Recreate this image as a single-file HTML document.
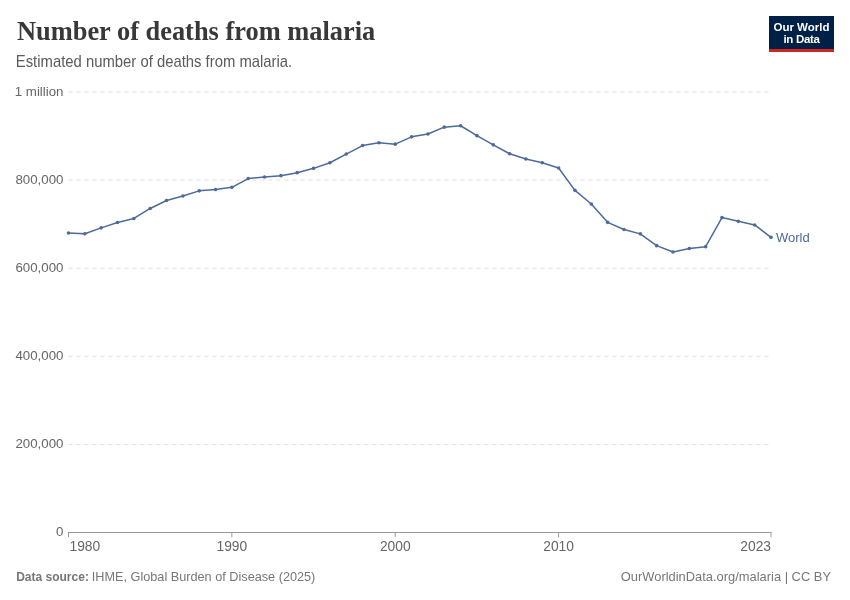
<!DOCTYPE html>
<html><head><meta charset="utf-8"><style>
html,body{margin:0;padding:0;background:#fff;width:850px;height:600px;overflow:hidden}
svg{display:block;will-change:transform}
text{font-family:"Liberation Sans",sans-serif}
</style></head><body>
<svg width="850" height="600" viewBox="0 0 850 600">
<rect width="850" height="600" fill="#fff"/>
<text x="17" y="40.3" style="font-family:'Liberation Serif',serif;font-weight:bold;font-size:26.4px" fill="#383838">Number of deaths from malaria</text>
<text transform="translate(15.8,66.6) scale(1,1.06)" x="0" y="0" style="font-size:14.85px" fill="#5b5b5b">Estimated number of deaths from malaria.</text>
<g stroke="#dddddd" stroke-width="1" stroke-dasharray="4,4" fill="none"><line x1="68.5" y1="92.00" x2="771" y2="92.00"/><line x1="68.5" y1="180.10" x2="771" y2="180.10"/><line x1="68.5" y1="268.20" x2="771" y2="268.20"/><line x1="68.5" y1="356.30" x2="771" y2="356.30"/><line x1="68.5" y1="444.40" x2="771" y2="444.40"/></g>
<g fill="#666" font-size="13.3" text-anchor="end"><text x="63.5" y="96.2">1 million</text><text x="63.5" y="184.2">800,000</text><text x="63.5" y="272.2">600,000</text><text x="63.5" y="360.2">400,000</text><text x="63.5" y="448.2">200,000</text><text x="63.5" y="536.4">0</text></g>
<g stroke="#999" stroke-width="1" fill="none"><line x1="68" y1="532.5" x2="771.5" y2="532.5"/><line x1="68.50" y1="532.5" x2="68.50" y2="537.3"/><line x1="231.87" y1="532.5" x2="231.87" y2="537.3"/><line x1="395.24" y1="532.5" x2="395.24" y2="537.3"/><line x1="558.62" y1="532.5" x2="558.62" y2="537.3"/><line x1="771.00" y1="532.5" x2="771.00" y2="537.3"/></g>
<g fill="#666" font-size="13.8"><text x="69.50" y="550.8" text-anchor="start">1980</text><text x="231.87" y="550.8" text-anchor="middle">1990</text><text x="395.24" y="550.8" text-anchor="middle">2000</text><text x="558.62" y="550.8" text-anchor="middle">2010</text><text x="771.00" y="550.8" text-anchor="end">2023</text></g>
<path d="M68.50,232.95 L84.84,233.75 L101.17,227.85 L117.51,222.55 L133.85,218.45 L150.19,208.45 L166.52,200.55 L182.86,196.05 L199.20,190.85 L215.53,189.45 L231.87,187.35 L248.21,178.55 L264.55,177.05 L280.88,175.65 L297.22,172.65 L313.56,168.35 L329.90,162.75 L346.23,154.05 L362.57,145.55 L378.91,142.75 L395.24,144.15 L411.58,136.85 L427.92,133.95 L444.26,127.15 L460.59,125.75 L476.93,135.65 L493.27,144.85 L509.60,153.75 L525.94,158.95 L542.28,162.75 L558.62,168.05 L574.95,190.35 L591.29,204.05 L607.63,222.35 L623.97,229.45 L640.30,233.85 L656.64,245.65 L672.98,252.05 L689.31,248.45 L705.65,246.65 L721.99,217.55 L738.33,221.35 L754.66,224.95 L771.00,237.35" fill="none" stroke="#4c6a9c" stroke-width="1.5" stroke-linejoin="round"/>
<g fill="#4c6a9c"><circle cx="68.50" cy="232.95" r="1.8"/><circle cx="84.84" cy="233.75" r="1.8"/><circle cx="101.17" cy="227.85" r="1.8"/><circle cx="117.51" cy="222.55" r="1.8"/><circle cx="133.85" cy="218.45" r="1.8"/><circle cx="150.19" cy="208.45" r="1.8"/><circle cx="166.52" cy="200.55" r="1.8"/><circle cx="182.86" cy="196.05" r="1.8"/><circle cx="199.20" cy="190.85" r="1.8"/><circle cx="215.53" cy="189.45" r="1.8"/><circle cx="231.87" cy="187.35" r="1.8"/><circle cx="248.21" cy="178.55" r="1.8"/><circle cx="264.55" cy="177.05" r="1.8"/><circle cx="280.88" cy="175.65" r="1.8"/><circle cx="297.22" cy="172.65" r="1.8"/><circle cx="313.56" cy="168.35" r="1.8"/><circle cx="329.90" cy="162.75" r="1.8"/><circle cx="346.23" cy="154.05" r="1.8"/><circle cx="362.57" cy="145.55" r="1.8"/><circle cx="378.91" cy="142.75" r="1.8"/><circle cx="395.24" cy="144.15" r="1.8"/><circle cx="411.58" cy="136.85" r="1.8"/><circle cx="427.92" cy="133.95" r="1.8"/><circle cx="444.26" cy="127.15" r="1.8"/><circle cx="460.59" cy="125.75" r="1.8"/><circle cx="476.93" cy="135.65" r="1.8"/><circle cx="493.27" cy="144.85" r="1.8"/><circle cx="509.60" cy="153.75" r="1.8"/><circle cx="525.94" cy="158.95" r="1.8"/><circle cx="542.28" cy="162.75" r="1.8"/><circle cx="558.62" cy="168.05" r="1.8"/><circle cx="574.95" cy="190.35" r="1.8"/><circle cx="591.29" cy="204.05" r="1.8"/><circle cx="607.63" cy="222.35" r="1.8"/><circle cx="623.97" cy="229.45" r="1.8"/><circle cx="640.30" cy="233.85" r="1.8"/><circle cx="656.64" cy="245.65" r="1.8"/><circle cx="672.98" cy="252.05" r="1.8"/><circle cx="689.31" cy="248.45" r="1.8"/><circle cx="705.65" cy="246.65" r="1.8"/><circle cx="721.99" cy="217.55" r="1.8"/><circle cx="738.33" cy="221.35" r="1.8"/><circle cx="754.66" cy="224.95" r="1.8"/><circle cx="771.00" cy="237.35" r="1.8"/></g>
<text x="776" y="242" font-size="13" fill="#4c6a9c">World</text>
<rect x="769" y="16" width="65" height="33" fill="#002147"/>
<rect x="769" y="49" width="65" height="3" fill="#ce261e"/>
<text x="801.5" y="30.7" font-size="11.5" font-weight="bold" fill="#fff" text-anchor="middle">Our World</text>
<text x="801.5" y="42.5" font-size="11.5" font-weight="bold" fill="#fff" text-anchor="middle" letter-spacing="-0.3">in Data</text>
<text x="16.2" y="580.5" font-size="12" font-weight="bold" fill="#777">Data source:</text><text x="91.8" y="580.5" font-size="12.7" fill="#777">IHME, Global Burden of Disease (2025)</text>
<text x="831" y="580.5" font-size="12.9" fill="#777" text-anchor="end">OurWorldinData.org/malaria | CC BY</text>
</svg>
</body></html>
